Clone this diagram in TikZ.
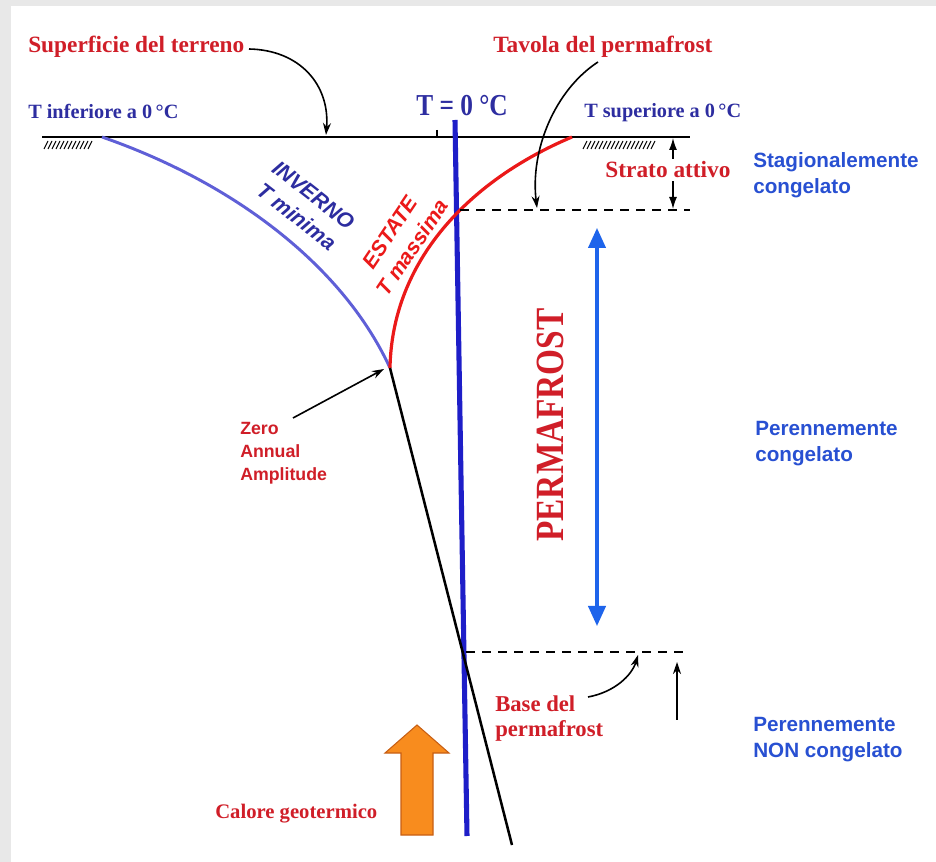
\documentclass[tikz,border=0pt]{standalone}
\usepackage{fontspec}
\setmainfont{Liberation Serif}
\setsansfont{Liberation Sans}
\usetikzlibrary{arrows.meta}
\definecolor{tred}{RGB}{208,30,40}
\definecolor{tnavy}{RGB}{45,45,160}
\definecolor{tblue}{RGB}{40,80,210}
\definecolor{wcurve}{RGB}{95,95,215}
\definecolor{scurve}{RGB}{235,25,25}
\definecolor{zline}{RGB}{30,30,200}
\definecolor{parrow}{RGB}{30,100,235}
\definecolor{orfill}{RGB}{248,140,30}
\definecolor{ordraw}{RGB}{200,95,20}
\definecolor{bggray}{RGB}{232,232,232}
\begin{document}
\begin{tikzpicture}[x=0.75pt,y=-0.75pt,
  redlab/.style={text=tred,font=\bfseries\fontsize{17.5}{20}\selectfont,inner sep=0pt},
  navylab/.style={text=tnavy,font=\bfseries\fontsize{15.2}{18}\selectfont,inner sep=0pt},
  bluesans/.style={text=tblue,font=\sffamily\bfseries\fontsize{15.5}{20}\selectfont,align=left,inner sep=0pt,anchor=base west},
  curvelab/.style={font=\sffamily\bfseries\itshape\fontsize{16}{20.5}\selectfont,inner sep=0pt,align=center},
  blackarrow/.style={-{Stealth[length=9pt,width=6pt]},line width=1.2pt},
  dimarrow/.style={{Latex[length=9pt,width=6pt]}-{Latex[length=9pt,width=6pt]},line width=1pt},
  hatch/.style={line width=0.8pt},
  dashline/.style={dashed,dash pattern=on 7pt off 5pt,line width=1pt}]
\useasboundingbox (0,0) rectangle (936,862);
\fill[bggray] (0,0) rectangle (936,862);
\fill[white] (11,6) rectangle (936,862);

% ground line and hatching
\coordinate (gl) at (42,137);
\coordinate (gr) at (690,137);
\draw[line width=1.5pt] (gl) -- (gr);
\draw[line width=1pt] (437,130) -- (437,137);
\foreach \x in {44,48,...,88} \draw[hatch] (\x,149) -- (\x+4,141);
\foreach \x in {583,587,...,653} \draw[hatch] (\x,149) -- (\x+4,141);

% key points
\coordinate (ws) at (102,137);
\coordinate (zaa) at (390,368);
\coordinate (ss) at (572,137);
\coordinate (bot) at (512,845);
\coordinate (ztop) at (455,120);
\coordinate (zbot) at (467,836);

% T=0 line
\draw[zline,line width=3.8pt] (ztop) -- (zbot);
% winter and summer curves
\draw[wcurve,line width=2.2pt] (ws) .. controls (240,185) and (345,270) .. (zaa);
\draw[scurve,line width=2.4pt] (zaa) .. controls (392,260) and (470,180) .. (ss);
% geothermal gradient
\draw[black,line width=1.9pt] (zaa) -- (bot);

% dashed lines
\coordinate (tp1) at (460,210);
\coordinate (tp2) at (690,210);
\draw[dashline] (tp1) -- (tp2);
\coordinate (bp1) at (466,652);
\coordinate (bp2) at (684,652);
\draw[dashline] (bp1) -- (bp2);

% texts
\node[redlab,anchor=base west] (superf) at (28,53) {Superficie del terreno};
\node[redlab,anchor=base west] (tavola) at (493,53) {Tavola del permafrost};
\node[navylab,anchor=base west] (tinf) at (28,119) {T inferiore a 0\,°C};
\node[navylab,anchor=base west] (tsup) at (584,118) {T superiore a 0\,°C};
\node[text=tnavy,font=\bfseries\fontsize{19}{22}\selectfont,inner sep=0pt,anchor=base] (tzero) at (462,116) {\scalebox{1}[1.2]{T = 0 °C}};

% strato attivo dimension
\coordinate (sa1) at (673,138);
\coordinate (sa2) at (673,209);
\draw[dimarrow] (sa1) -- (sa2);
\node[redlab,anchor=base,fill=white,inner xsep=1pt,inner ysep=2pt] (strato) at (668,178) {Strato attivo};

\node[bluesans] (stag) at (753,194) {Stagionalemente\\congelato};
\node[bluesans] (perc) at (755,462) {Perennemente\\congelato};
\node[bluesans] (pernc) at (753,758) {Perennemente\\NON congelato};

\node[curvelab,text=tnavy,rotate=-38] (inverno) at (305,206) {INVERNO\\T minima};
\node[curvelab,text=scurve,rotate=56] (estate) at (401,240) {ESTATE\\T massima};

\node[text=tred,font=\bfseries\fontsize{25}{28}\selectfont,rotate=90,inner sep=0pt] (perma) at (550,425) {\scalebox{1}[1.2]{PERMAFROST}};

\node[text=tred,font=\sffamily\bfseries\fontsize{13.3}{17.3}\selectfont,align=left,inner sep=0pt,anchor=base west] (zero) at (240,481) {Zero\\Annual\\Amplitude};

\node[redlab,font=\bfseries\fontsize{17}{19}\selectfont,align=left,anchor=base west] (base) at (495,737) {Base del\\permafrost};
\node[redlab,font=\bfseries\fontsize{15.5}{18}\selectfont,anchor=base west] (calore) at (215,818) {Calore geotermico};

% permafrost double arrow
\coordinate (pa1) at (597,228);
\coordinate (pa2) at (597,626);
\draw[parrow,line width=2.3pt,{Triangle[length=15pt,width=13pt]}-{Triangle[length=15pt,width=13pt]}] (pa1) -- (pa2);

% pointer arrows
\coordinate (sp1) at (249,49);
\coordinate (sp2) at (326,135);
\draw[blackarrow] (sp1) .. controls (300,50) and (330,85) .. (sp2);
\coordinate (tv1) at (598,62);
\coordinate (tv2) at (537,208);
\draw[blackarrow] (tv1) .. controls (555,90) and (530,150) .. (tv2);
\coordinate (za1) at (293,418);
\coordinate (za2) at (384,369);
\draw[blackarrow] (za1) -- (za2);
\coordinate (bs1) at (588,697);
\coordinate (bs2) at (638,655);
\draw[blackarrow] (bs1) .. controls (615,692) and (632,675) .. (bs2);
\coordinate (ba1) at (677,720);
\coordinate (ba2) at (677,662);
\draw[blackarrow] (ba1) -- (ba2);

% geothermal heat arrow
\filldraw[fill=orfill,draw=ordraw,line width=0.8pt] (401,835) -- (401,753) -- (385,753) -- (417,725) -- (449,753) -- (433,753) -- (433,835) -- cycle;
\end{tikzpicture}
\end{document}
